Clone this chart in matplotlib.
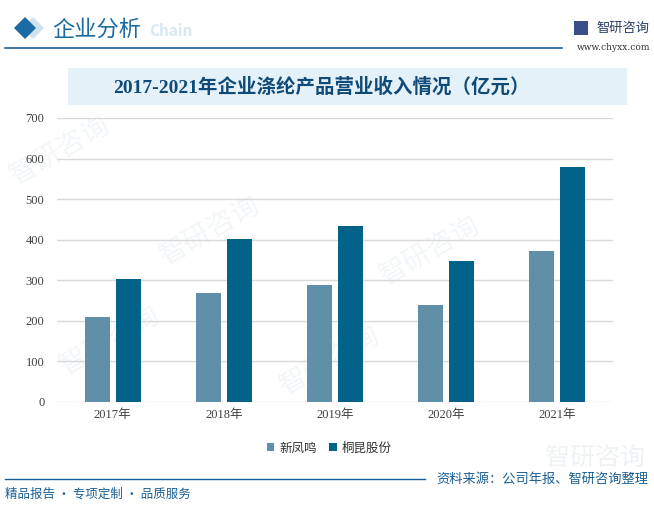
import numpy as np
import matplotlib
matplotlib.use("Agg")
import matplotlib.pyplot as plt
from matplotlib.patches import Rectangle, Polygon

plt.rcParams['font.family'] = ['Noto Sans CJK SC', 'DejaVu Sans']

#%% Data
years       = ['2017年', '2018年', '2019年', '2020年', '2021年']
xinfengming = [210, 269, 289, 239, 373]
tongkun     = [304, 402, 434, 348, 580]
series_names = ['新凤鸣', '桐昆股份']
y_ticks     = [0, 100, 200, 300, 400, 500, 600, 700]

c_light = '#5f90a7'
c_dark  = '#03628a'
c_blue  = '#1a5f94'
num_font = ['Liberation Serif', 'Noto Sans CJK SC']

W, H = 654, 508
fig = plt.figure(figsize=(W/100, H/100), dpi=100)

def fx(px): return px / W
def fy(py): return 1 - py / H

#%% Watermarks (very faint, behind everything)
for (x, y) in [(60, 150), (210, 230), (430, 250), (110, 340), (330, 360)]:
    t = fig.text(fx(x), fy(y), '智研咨询', fontsize=20, color='#f3f6f8', rotation=30,
                 ha='center', va='center')
    t.set_zorder(-5)

#%% Header
fig.add_artist(Polygon([[fx(22), fy(28)], [fx(33), fy(17)], [fx(44), fy(28)], [fx(33), fy(39)]],
                       closed=True, facecolor='#cfe3ef', edgecolor='none'))
fig.add_artist(Polygon([[fx(14), fy(28)], [fx(25), fy(17)], [fx(36), fy(28)], [fx(25), fy(39)]],
                       closed=True, facecolor='#1a6aa3', edgecolor='none'))
fig.text(fx(149), fy(31), 'Chain', fontsize=11, color='#d8e8f2', fontweight='bold',
         ha='left', va='center')
fig.text(fx(52), fy(29), '企业分析', fontsize=16, color='#1a6aa3', ha='left', va='center')
fig.add_artist(plt.Line2D([fx(5), fx(562)], [fy(48), fy(48)], color=c_blue, lw=1.2))
fig.add_artist(Rectangle((fx(574), fy(35)), fx(14), 14/H, facecolor='#3a4f8a', edgecolor='none'))
fig.text(fx(596), fy(28), '智研咨询', fontsize=9.5, color='#2a3f6a', ha='left', va='center')
fig.text(fx(650), fy(47), 'www.chyxx.com', fontsize=6.5, color='#333333', ha='right', va='center',
         family=['DejaVu Serif'])

#%% Title band
fig.add_artist(Rectangle((fx(68), fy(105)), fx(627 - 68), 37/H, facecolor='#e5f1f9', edgecolor='none'))
fig.text(fx(321), fy(87), '2017-2021年企业涤纶产品营业收入情况（亿元）', fontsize=14,
         color='#0f4a78', fontweight='bold', ha='center', va='center',
         family=['Liberation Serif', 'Noto Sans CJK SC'])

#%% Chart
ax = fig.add_axes([fx(57), fy(402), fx(613 - 57), (402 - 118)/H])
ax.patch.set_alpha(0)
x = np.arange(len(years))
bw = 0.225
off = 0.14
ax.bar(x - off, xinfengming, bw, color=c_light, label=series_names[0], zorder=3)
ax.bar(x + off, tongkun, bw, color=c_dark, label=series_names[1], zorder=3)

ax.set_xlim(-0.5, len(years) - 0.5)
ax.set_ylim(0, 700)
ax.set_yticks(y_ticks)
ax.set_xticks(x)
ax.set_xticklabels(years)
ax.grid(axis='y', color='#d9d9d9', lw=1, zorder=0)
for s in ax.spines.values():
    s.set_visible(False)
ax.tick_params(axis='both', length=0, labelsize=9, colors='#404040')
ax.tick_params(axis='y', pad=9)
ax.tick_params(axis='x', pad=5)
for lab in ax.get_xticklabels() + ax.get_yticklabels():
    lab.set_family(num_font)

leg = ax.legend(loc='upper center', bbox_to_anchor=(0.49, -0.1), ncol=2, frameon=False,
                fontsize=9, handlelength=0.6, handleheight=0.6, handletextpad=0.4,
                columnspacing=1.0)
for t in leg.get_texts():
    t.set_color('#333333')

#%% Footer
wm = fig.text(fx(645), fy(458), '智研咨询', fontsize=18, color='#eef2f5', ha='right', va='center')
wm.set_zorder(-5)
fig.add_artist(plt.Line2D([fx(5), fx(425)], [fy(479), fy(479)], color=c_blue, lw=1.0))
fig.text(fx(648), fy(479), '资料来源：公司年报、智研咨询整理', fontsize=9.5, color=c_blue,
         ha='right', va='center')
fig.text(fx(5), fy(494), '精品报告 · 专项定制 · 品质服务', fontsize=9, color=c_blue,
         ha='left', va='center')

fig.savefig('out.png', dpi=100)
